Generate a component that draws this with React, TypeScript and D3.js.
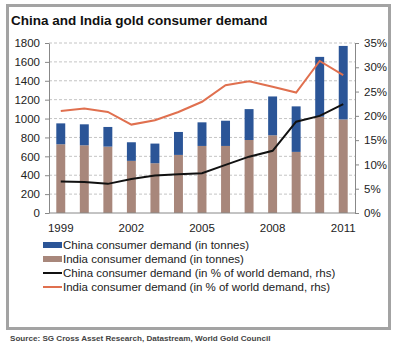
import { useEffect, useRef } from "react";
import * as d3 from "d3";

const years = ["1999", "2000", "2001", "2002", "2003", "2004", "2005", "2006", "2007", "2008", "2009", "2010", "2011"];
// tonnes
const indiaTonnes = [728, 717, 703, 552, 527, 615, 710, 710, 773, 823, 647, 1020, 991];
const chinaTonnes = [221, 222, 208, 197, 208, 243, 250, 267, 327, 411, 482, 633, 778];
// % of world demand
const chinaPct = [6.5, 6.4, 6.0, 7.0, 7.7, 8.0, 8.2, 9.9, 11.6, 12.8, 18.8, 20.0, 22.4];
const indiaPct = [21.0, 21.5, 20.8, 18.2, 19.1, 20.8, 22.9, 26.3, 27.1, 26.0, 24.8, 31.3, 28.4];
const xTickLabels = ["1999", "2002", "2005", "2008", "2011"];

const legendItems = [
  { label: "China consumer demand (in tonnes)", color: "#2b5597", kind: "bar" },
  { label: "India consumer demand (in tonnes)", color: "#a8877b", kind: "bar" },
  { label: "China consumer demand (in % of world demand, rhs)", color: "#111111", kind: "line" },
  { label: "India consumer demand (in % of world demand, rhs)", color: "#e0704f", kind: "line" },
];

export default function App() {
  const ref = useRef<SVGSVGElement>(null);

  useEffect(() => {
    const svg = d3.select(ref.current);
    svg.selectAll("*").remove();
    const font = "'Liberation Sans', Arial, sans-serif";

    const left = 49;
    const right = 355;
    const top = 43;
    const bottom = 213;

    const x = d3.scaleBand().domain(years).range([left, right]).paddingInner(0.62).paddingOuter(0.31);
    const y = d3.scaleLinear().domain([0, 1800]).range([bottom, top]);
    const y2 = d3.scaleLinear().domain([0, 35]).range([bottom, top]);

    // frame
    svg.append("rect").attr("x", 7.5).attr("y", 5.5).attr("width", 382).attr("height", 323)
      .attr("fill", "#fff").attr("stroke", "#a3a3a3").attr("stroke-width", 3);

    svg.append("text").attr("x", 11).attr("y", 25).text("China and India gold consumer demand")
      .attr("font-family", font).attr("font-weight", "bold").attr("font-size", 13.5).attr("fill", "#111");

    // grid
    svg.append("g").selectAll("line").data(y.ticks(9).filter((d) => d > 0)).join("line")
      .attr("x1", left).attr("x2", right).attr("y1", (d) => y(d)).attr("y2", (d) => y(d))
      .attr("stroke", "#b5b5b5").attr("stroke-dasharray", "3,2").attr("stroke-width", 0.8);

    // bars
    const g = svg.append("g");
    g.selectAll(".india").data(years).join("rect")
      .attr("x", (d) => x(d)!).attr("width", x.bandwidth())
      .attr("y", (_, i) => y(indiaTonnes[i])).attr("height", (_, i) => bottom - y(indiaTonnes[i]))
      .attr("fill", "#a8877b");
    g.selectAll(".china").data(years).join("rect")
      .attr("x", (d) => x(d)!).attr("width", x.bandwidth())
      .attr("y", (_, i) => y(indiaTonnes[i] + chinaTonnes[i])).attr("height", (_, i) => y(indiaTonnes[i]) - y(indiaTonnes[i] + chinaTonnes[i]))
      .attr("fill", "#2b5597");

    const line = d3.line<number>().x((_, i) => x(years[i])! + x.bandwidth() / 2).y((d) => y2(d));
    svg.append("path").attr("d", line(indiaPct)).attr("fill", "none").attr("stroke", "#e0704f").attr("stroke-width", 2);
    svg.append("path").attr("d", line(chinaPct)).attr("fill", "none").attr("stroke", "#111").attr("stroke-width", 2);

    // axes
    const leftAxis = svg.append("g").attr("transform", `translate(${left},0)`)
      .call(d3.axisLeft(y).tickValues(d3.range(0, 1801, 200)).tickSize(4).tickSizeOuter(0).tickPadding(5).tickFormat(d3.format("d")));
    const rightAxis = svg.append("g").attr("transform", `translate(${right},0)`)
      .call(d3.axisRight(y2).tickValues(d3.range(0, 36, 5)).tickSize(4).tickSizeOuter(0).tickPadding(5).tickFormat((d) => `${d}%`));
    [leftAxis, rightAxis].forEach((a) => {
      a.select(".domain").attr("stroke", "#888");
      a.selectAll(".tick line").attr("stroke", "#888");
      a.selectAll("text").attr("font-family", font).attr("font-size", 11.5).attr("fill", "#222");
    });
    svg.append("line").attr("x1", left).attr("x2", right).attr("y1", bottom).attr("y2", bottom).attr("stroke", "#888");

    svg.append("g").selectAll("text").data(xTickLabels).join("text")
      .attr("x", (d) => x(d)! + x.bandwidth() / 2).attr("y", 232).attr("text-anchor", "middle")
      .attr("font-family", font).attr("font-size", 11.5).attr("fill", "#222").text((d) => d);

    // legend
    const lg = svg.append("g").selectAll("g").data(legendItems).join("g")
      .attr("transform", (_, i) => `translate(43,${245 + i * 14})`);
    lg.append("rect").attr("x", 0).attr("width", 19)
      .attr("y", (d) => (d.kind === "bar" ? -3 : -1)).attr("height", (d) => (d.kind === "bar" ? 6 : 2))
      .attr("fill", (d) => d.color);
    lg.append("text").attr("x", 20).attr("y", 4).text((d) => d.label)
      .attr("font-family", font).attr("font-size", 11.5).attr("fill", "#222");

    svg.append("text").attr("x", 10).attr("y", 341).text("Source: SG Cross Asset Research, Datastream, World Gold Council")
      .attr("font-family", font).attr("font-weight", "bold").attr("font-size", 8.1).attr("fill", "#444");
  }, []);

  return (
    <svg ref={ref} width={400} height={352} style={{ position: "absolute", left: 0, top: 0, background: "#fff" }} />
  );
}
